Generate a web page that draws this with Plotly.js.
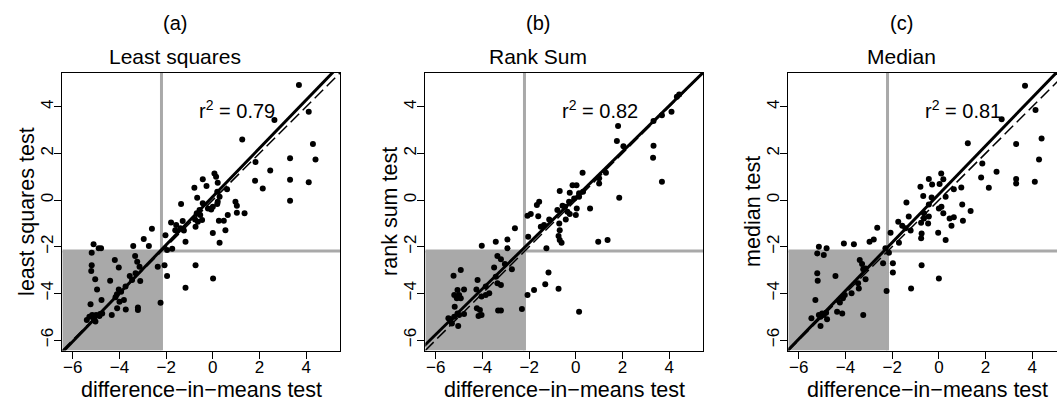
<!DOCTYPE html>
<html><head><meta charset="utf-8">
<script src="https://cdn.plot.ly/plotly-3.0.1.min.js"></script>
<style>html,body{margin:0;padding:0;background:#fff;overflow:hidden}</style>
</head><body><div id="chart" style="width:1057px;height:405px"></div>
<script>
// ---- data ----
const panelLetters = ["(a)", "(b)", "(c)"];
const panelTitles = ["Least squares", "Rank Sum", "Median"];
const yTitles = ["least squares test", "rank sum test", "median test"];
const xTitle = "difference\u2212in\u2212means test";
const rSquared = ["0.79", "0.82", "0.81"];
const tickValues = [-6, -4, -2, 0, 2, 4];
const thresholdX = -2.2;
const thresholdY = -2.18;
const fitIntercepts = [0.15, 0.12, 0.25];
const fitSlopes = [1.035, 0.98, 1.035];

const leastSquaresPoints = [
[3.69,4.93],[4.11,3.79],[2.64,3.43],[1.26,2.6],[4.29,2.4],[3.31,1.79],[4.4,1.74],[1.83,1.63],[2.46,1.27],[1.81,0.83],[3.31,0.87],[4.11,0.76],[2.14,0.5],[3.31,-0.03],
[0.07,1.14],[0.14,1.0],[-0.43,0.89],[-0.79,0.53],[-0.27,0.6],[0.21,0.74],[0.61,0.46],[-0.67,0.1],[0.29,0.14],[0.19,0.36],[-1.36,-0.17],[-0.43,-0.14],[-0.21,-0.36],[0,-0.29],[0.19,-0.17],[0.21,-0.07],[-0.57,-0.43],[-0.69,-0.57],[-0.54,-0.64],[-0.76,-0.83],[-0.64,-0.93],[-0.74,-1.14],[-0.46,-0.86],[-0.07,-0.4],[0.97,-0.07],[1.03,-0.24],[1.03,-0.54],[1.36,-0.57],[0.64,-0.64],[0.26,-0.89],[0.47,-0.89],[0.54,-1.29],[0,-1.41],[0.29,-1.83],
[-1.79,-0.96],[-1.57,-1.07],[-1.29,-0.9],[-1.39,-1.21],[-1.24,-1.31],[-1.61,-1.29],[-2.03,-1.51],[-1.17,-1.79],[-2.61,-1.23],[-2.96,-1.67],[-2.74,-1.97],[-3.41,-1.97],[-1.96,-2.14],[-1.74,-2.09],[-2.07,-2.79],[-2.36,-2.86],[-1.96,-3.26],[-0.74,-2.79],[0.01,-3.36],[-1.17,-3.76],[-2.24,-4.4],
[-5.11,-1.9],[-5.19,-2.26],[-4.89,-2.07],[-4.79,-2.07],[-5.19,-2.79],[-5.21,-3.04],[-5.04,-3.39],[-4.96,-3.83],[-5.24,-4.47],[-4.77,-4.29],[-4.2,-2.57],[-4.03,-2.89],[-4.4,-3.46],[-3.33,-2.4],[-3.24,-2.64],[-3.14,-2.86],[-3.31,-3.14],[-3.56,-3.26],[-3.46,-3.43],[-3.11,-3.47],[-4.03,-3.83],[-4.11,-4.04],[-4.17,-4.17],[-4.0,-4.36],[-4.1,-4.64],[-3.73,-4.69],[-3.21,-4.61],[-3.21,-4.71],[-4.33,-4.93],[-4.83,-4.89],[-5.0,-4.93],[-5.17,-4.93],[-5.29,-5.0],[-5.4,-5.14],[-5.1,-5.07],[-5.03,-5.21],[-4.86,-4.97],[-4.74,-4.86],[-3.81,-4.29],[-3.93,-3.93],[-3.74,-3.71]
];
const rankSumPoints = [
[4.43,4.53],[4.33,4.43],[4.1,3.79],[3.69,3.64],[3.33,3.39],[1.81,3.17],[1.76,2.53],[3.33,2.33],[3.31,1.81],[2.04,2.31],[3.69,0.79],[1.86,0.1],[1.0,0.93],[1.0,0.71],[1.29,1.17],[0.29,1.17],[-0.69,0.39],[-0.26,0.31],[-0.14,0.64],[0.03,0.64],[0.14,0.29],[0.31,0.36],[0.14,0.14],[-0.07,0.07],[0.04,-0.36],[0.61,-0.36],[-0.57,-0.24],[-0.79,-0.43],[-0.46,-0.29],[-0.36,-0.5],[-0.26,-0.6],[-0.43,-0.83],[-0.71,-1.0],[-0.69,-1.29],[-0.74,-1.54],[-0.69,-1.71],[-0.61,-1.83],[0,-0.64],[-0.29,-0.07],[-1.14,-0.83],[-1.36,-1.07],[-1.57,-0.07],[-1.67,-0.21],[-1.61,-0.69],[-1.93,-0.6],[-2.07,-0.67],[-1.5,-1.14],[-2.04,-1.57],[0.96,-1.79],[1.36,-1.71],[-1.26,-2.07],[-2.61,-1.21],[-2.93,-1.69],[-3.43,-1.79],[-4.03,-1.96],[-2.93,-2.07],[-3.36,-2.4],[-3.21,-2.54],[-3.04,-2.74],[-2.74,-2.97],[-3.5,-2.89],[-3.43,-3.29],[-3.21,-3.64],[-3.86,-3.71],[-4.21,-3.43],[-4.26,-3.83],[-3.86,-4.07],[-4.04,-4.14],[-4.24,-4.64],[-4.11,-4.71],[-4.04,-4.93],[-4.17,-4.97],[-3.33,-4.74],[-3.21,-4.74],[-2.31,-4.67],[-2.07,-4.07],[-1.79,-3.86],[-1.31,-3.61],[-1.17,-3.11],[-0.74,-3.8],[0.14,-4.79],[-5.24,-3.24],[-4.93,-3.0],[-5.21,-4.07],[-5.07,-3.86],[-5.0,-4.07],[-4.93,-4.21],[-4.79,-3.83],[-5.1,-4.21],[-5.19,-4.57],[-5.07,-4.86],[-4.79,-4.89],[-5.0,-4.93],[-5.21,-5.0],[-5.36,-5.11],[-5.46,-5.07],[-5.04,-5.4],[-5.31,-5.29],[-3.36,-3.57],[-3.71,-4.0]
];
const medianPoints = [
[3.69,4.9],[4.14,3.86],[2.69,3.46],[1.24,2.43],[4.4,2.64],[3.31,2.4],[4.29,1.74],[1.86,1.57],[2.47,1.21],[1.81,0.97],[3.31,0.9],[3.31,0.71],[4.11,0.79],[2.14,0.53],[0.1,1.14],[0.19,0.89],[-0.43,0.9],[-0.29,0.67],[0.03,0.69],[-0.79,0.57],[0.96,0.54],[0.64,0.46],[-0.67,0.17],[-0.31,0.11],[0.29,0.14],[-1.39,-0.11],[1.0,-0.19],[1.36,-0.47],[-0.43,-0.19],[0,-0.36],[0.11,-0.29],[0.19,-0.57],[0.46,-0.79],[0.64,-0.74],[0.54,-1.1],[1.03,-0.89],[-0.64,-0.57],[-0.64,-0.79],[-0.76,-0.97],[-0.46,-1.0],[-0.43,-0.71],[-0.74,-1.43],[-0.76,-1.64],[-0.03,-1.4],[0.29,-1.71],[-1.29,-0.71],[-1.57,-1.1],[-1.74,-0.93],[-1.71,-1.83],[-1.43,-1.21],[-1.21,-1.31],[-2.07,-1.4],[-2.64,-1.19],[-2.79,-1.69],[-2.97,-1.79],[-3.64,-1.89],[-2.14,-2.26],[-2.29,-2.07],[-1.97,-2.71],[-1.97,-3.11],[-2.39,-2.71],[-2.24,-3.9],[-0.74,-2.79],[0,-3.36],[-1.19,-3.79],[-3.39,-2.57],[-3.29,-2.74],[-3.24,-2.97],[-3.14,-2.93],[-3.14,-3.4],[-3.46,-3.57],[-3.43,-3.79],[-3.74,-4.0],[-4.03,-4.07],[-4.11,-4.21],[-4.24,-4.39],[-4.14,-4.86],[-4.36,-4.79],[-3.24,-4.93],[-4.43,-3.26],[-4.07,-1.86],[-5.14,-2.0],[-4.81,-2.07],[-5.21,-2.29],[-4.93,-2.36],[-5.21,-3.14],[-5.19,-3.46],[-5.29,-4.29],[-5.0,-4.86],[-5.14,-4.93],[-4.83,-4.83],[-5.07,-5.0],[-5.46,-5.07],[-5.07,-5.4],[-4.79,-5.11],[-4.93,-4.93]
];
const panelPoints = [leastSquaresPoints, rankSumPoints, medianPoints];

// ---- layout geometry (pixels) ----
const W = 1057, H = 405;
const FONT = "Liberation Sans, Arial, Helvetica, sans-serif";
const boxLeft = [62.3, 425.3, 788.3];
const boxWidth = 277.7;
const boxTop = 72.7, boxBottom = 350.5;
const xRanges = [[-6.45, 5.45], [-6.45, 5.45], [-6.45, 5.06]];
const yRange = [-6.45, 5.46];

const px = v => v / W;
const py = v => 1 - v / H;

const data = [];
const shapes = [];
const annotations = [];
const layout = {
  width: W, height: H,
  margin: {l: 0, r: 0, t: 0, b: 0},
  paper_bgcolor: "#ffffff", plot_bgcolor: "#ffffff",
  showlegend: false,
  font: {family: FONT, color: "#000"},
  shapes: shapes, annotations: annotations
};

for (let i = 0; i < 3; i++) {
  const sfx = i === 0 ? "" : String(i + 1);
  const xa = "x" + sfx, ya = "y" + sfx;
  const xr = xRanges[i];
  const right = Math.min(1, (boxLeft[i] + boxWidth) / W);
  layout["xaxis" + sfx] = {
    domain: [px(boxLeft[i]), right], range: xr, anchor: ya,
    showline: true, mirror: true, linecolor: "#000", linewidth: 1,
    ticks: "outside", ticklen: 7, tickwidth: 1, tickcolor: "#000",
    tickmode: "array", tickvals: tickValues, ticklabelstandoff: -6,
    tickfont: {family: FONT, size: 17, color: "#000"},
    showgrid: false, zeroline: false, fixedrange: true
  };
  layout["yaxis" + sfx] = {
    domain: [py(boxBottom), py(boxTop)], range: yRange, anchor: xa,
    showline: true, mirror: i < 2, linecolor: "#000", linewidth: 1,
    ticks: "outside", ticklen: 7, tickwidth: 1, tickcolor: "#000",
    tickmode: "array", tickvals: tickValues, tickangle: -90, ticklabelstandoff: -5,
    tickfont: {family: FONT, size: 17, color: "#000"},
    showgrid: false, zeroline: false, fixedrange: true
  };

  // shaded lower-left region and threshold lines
  shapes.push({type: "rect", xref: xa, yref: ya, x0: xr[0], x1: thresholdX, y0: yRange[0], y1: thresholdY,
    fillcolor: "#a9a9a9", line: {width: 0}, layer: "below"});
  shapes.push({type: "line", xref: xa, yref: ya, x0: thresholdX, x1: thresholdX, y0: yRange[0], y1: yRange[1],
    line: {color: "#a9a9a9", width: 3}, layer: "below"});
  shapes.push({type: "line", xref: xa, yref: ya, x0: xr[0], x1: xr[1], y0: thresholdY, y1: thresholdY,
    line: {color: "#a9a9a9", width: 3}, layer: "below"});

  const pts = panelPoints[i];
  data.push({type: "scatter", mode: "markers", xaxis: xa, yaxis: ya,
    x: pts.map(p => p[0]), y: pts.map(p => p[1]),
    marker: {size: 6, color: "#000"}, hoverinfo: "x+y"});

  // identity line (dashed) and fitted line (solid)
  data.push({type: "scatter", mode: "lines", xaxis: xa, yaxis: ya,
    x: [-8, 8], y: [-8, 8], line: {color: "#000", width: 1.5, dash: "12px,5px"}, hoverinfo: "skip"});
  data.push({type: "scatter", mode: "lines", xaxis: xa, yaxis: ya,
    x: [-8, 8], y: [-8, 8].map(v => fitIntercepts[i] + fitSlopes[i] * v),
    line: {color: "#000", width: 3}, hoverinfo: "skip"});

  const boxCenter = boxLeft[i] + boxWidth / 2;
  annotations.push({xref: "paper", yref: "paper", x: px(boxCenter - 26), y: py(23), text: panelLetters[i],
    showarrow: false, xanchor: "center", yanchor: "middle", font: {family: FONT, size: 20, color: "#000"}});
  annotations.push({xref: "paper", yref: "paper", x: px(boxCenter - 26), y: py(56), text: panelTitles[i],
    showarrow: false, xanchor: "center", yanchor: "middle", font: {family: FONT, size: 21, color: "#000"}});
  annotations.push({xref: "paper", yref: "paper", x: px(boxCenter), y: py(390), text: xTitle,
    showarrow: false, xanchor: "center", yanchor: "middle", font: {family: FONT, size: 21.5, color: "#000"}});
  annotations.push({xref: "paper", yref: "paper", x: px(boxLeft[i] - 36), y: py((boxTop + boxBottom) / 2),
    text: yTitles[i], textangle: -90,
    showarrow: false, xanchor: "center", yanchor: "middle", font: {family: FONT, size: 21.5, color: "#000"}});
  annotations.push({xref: xa, yref: ya, x: 1.05, y: 3.9, text: "r<sup>2</sup> = " + rSquared[i],
    showarrow: false, xanchor: "center", yanchor: "middle", font: {family: FONT, size: 20, color: "#000"}});
}

Plotly.newPlot("chart", data, layout, {staticPlot: true, displayModeBar: false});
</script></body></html>
